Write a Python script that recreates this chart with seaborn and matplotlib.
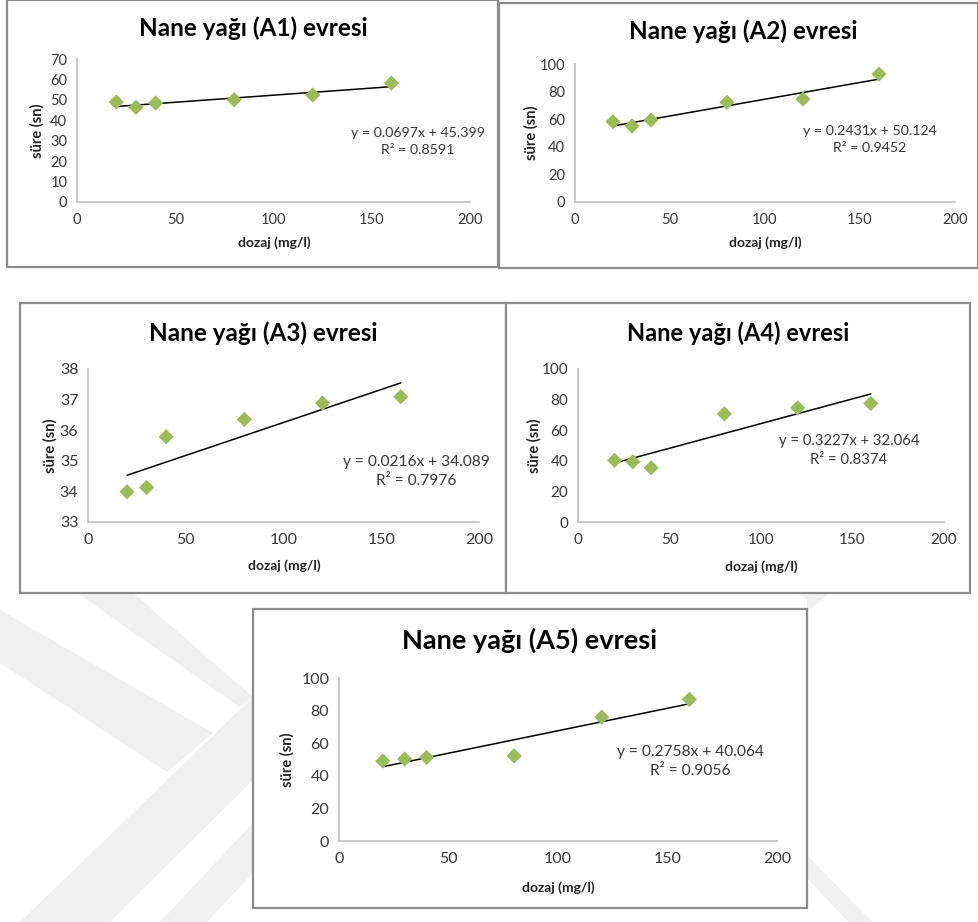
import numpy as np
import pandas as pd
import matplotlib
matplotlib.use("Agg")
import matplotlib.pyplot as plt
from matplotlib.patches import Rectangle, Polygon
import seaborn as sns

# ---------------- data ----------------
dose = [20, 30, 40, 80, 120, 160]
titles = ["Nane yağı (A1) evresi", "Nane yağı (A2) evresi", "Nane yağı (A3) evresi",
          "Nane yağı (A4) evresi", "Nane yağı (A5) evresi"]
a1 = [49.0, 46.4, 48.5, 50.1, 52.4, 58.3]
a2 = [58.1, 55.0, 59.3, 72.2, 74.6, 92.7]
a3 = [33.98, 34.12, 35.78, 36.35, 36.88, 37.09]
a4 = [40.3, 39.4, 35.4, 70.7, 74.6, 77.5]
a5 = [49.1, 50.3, 51.3, 52.2, 76.0, 86.9]
slopes = [0.0697, 0.2431, 0.0216, 0.3227, 0.2758]
intercepts = [45.399, 50.124, 34.089, 32.064, 40.064]
r2 = ["0.8591", "0.9452", "0.7976", "0.8374", "0.9056"]
eq_text = ["y = 0.0697x + 45.399", "y = 0.2431x + 50.124", "y = 0.0216x + 34.089",
           "y = 0.3227x + 32.064", "y = 0.2758x + 40.064"]
ylims = [(0, 70), (0, 100), (33, 38), (0, 100), (0, 100)]
yticks = [list(range(0, 71, 10)), list(range(0, 101, 20)), list(range(33, 39)),
          list(range(0, 101, 20)), list(range(0, 101, 20))]
xticks = [0, 50, 100, 150, 200]
xlabel = "dozaj (mg/l)"
ylabel = "süre (sn)"

series = [a1, a2, a3, a4, a5]

# ---------------- layout (pixels) ----------------
W, H = 979, 922
sns.set_theme(style="white")
plt.rcParams['font.family'] = ['Lato', 'DejaVu Sans']

fig = plt.figure(figsize=(W / 100, H / 100), dpi=100)
fig.patch.set_facecolor("white")

def fx(px):
    return px / W

def fy(py):
    return 1 - py / H

# faint watermark bands in the background
wm = "#f0f0f0"
bands = [
    [(77, 593), (133, 593), (253, 697), (240, 707)],
    [(0, 610), (213, 733), (167, 772), (0, 663)],
    [(253, 697), (20, 922), (110, 922), (253, 780)],
    [(253, 823), (160, 922), (207, 922), (253, 873)],
    [(807, 855), (807, 878), (848, 922), (872, 922)],
    [(797, 593), (830, 593), (807, 612), (807, 600)],
]
for b in bands:
    fig.patches.append(Polygon([(fx(x), fy(y)) for x, y in b], closed=True,
                               transform=fig.transFigure, facecolor=wm,
                               edgecolor="none", zorder=-3))

boxes = [(7, 0, 498, 267), (499.5, 3, 978, 268), (20, 303, 506, 593),
         (506, 303, 970, 593), (253, 609, 807, 908)]
axes_px = [(77, 470, 201.7, 59.3), (575, 955, 201.7, 64), (88, 479, 521.7, 369),
           (578, 944, 522, 369), (339, 777, 841, 678)]
title_pos = [(253, 28), (743, 31), (263, 333), (738, 333), (530, 640)]
title_fs = [17.5, 17.5, 17.5, 17, 19.5]
eq_pos = [(418, 133, 150), (870, 131, 148), (416, 462, 481), (849, 441, 460), (690, 752, 771)]
xl_pos = [(274, 243), (765, 243), (284, 566), (761, 567), (558, 888)]
yl_x = [37, 531, 50, 534, 287]
tick_fs = [10.5, 10.5, 11.5, 11, 11.5]

for (l, t, r, b) in boxes:
    fig.patches.append(Rectangle((fx(l), fy(b)), fx(r) - fx(l), fy(t) - fy(b),
                                 transform=fig.transFigure, facecolor="white",
                                 edgecolor="#8c8c8c", linewidth=1.6, zorder=-2))

green = "#9BBB59"
for i in range(5):
    L, R, B, T = axes_px[i]
    ax = fig.add_axes([fx(L), fy(B), fx(R) - fx(L), fy(T) - fy(B)])
    ax.set_facecolor("none")
    ax.patch.set_alpha(0)
    df = pd.DataFrame({"dozaj": dose, "sure": series[i]})
    xs = np.array([min(dose), max(dose)], dtype=float)
    line_df = pd.DataFrame({"x": xs, "y": slopes[i] * xs + intercepts[i]})
    sns.lineplot(data=line_df, x="x", y="y", ax=ax, color="black", linewidth=1.1, zorder=2)
    sns.scatterplot(data=df, x="dozaj", y="sure", ax=ax, marker="D", s=60,
                    color=green, edgecolor="none", zorder=3)
    ax.set_xlim(0, 200)
    ax.set_ylim(*ylims[i])
    ax.set_xticks(xticks)
    ax.set_yticks(yticks[i])
    ax.set_xlabel("")
    ax.set_ylabel("")
    for s in ["top", "right"]:
        ax.spines[s].set_visible(False)
    for s in ["left", "bottom"]:
        ax.spines[s].set_color("#c0c0c0")
        ax.spines[s].set_linewidth(1.2)
    ax.tick_params(axis="both", length=0, labelsize=tick_fs[i], colors="#383838")
    ax.tick_params(axis="x", pad=8)
    ax.tick_params(axis="y", pad=7)
    ax.grid(False)

    tx, ty = title_pos[i]
    fig.text(fx(tx), fy(ty), titles[i], ha="center", va="center",
             fontsize=title_fs[i], fontweight="bold", color="black")
    ex, ey1, ey2 = eq_pos[i]
    fig.text(fx(ex), fy(ey1), eq_text[i], ha="center", va="center",
             fontsize=tick_fs[i] - 0.3, color="#383838")
    fig.text(fx(ex), fy(ey2), "R² = " + r2[i], ha="center", va="center",
             fontsize=tick_fs[i] - 0.3, color="#383838")
    xx, xy = xl_pos[i]
    fig.text(fx(xx), fy(xy), xlabel, ha="center", va="center",
             fontsize=10, fontweight="bold", color="#222222")
    fig.text(fx(yl_x[i]), fy((B + T) / 2), ylabel, ha="center", va="center",
             rotation=90, fontsize=10.5, fontweight="bold", color="#222222")

fig.savefig("out.png", dpi=100, facecolor="white")
